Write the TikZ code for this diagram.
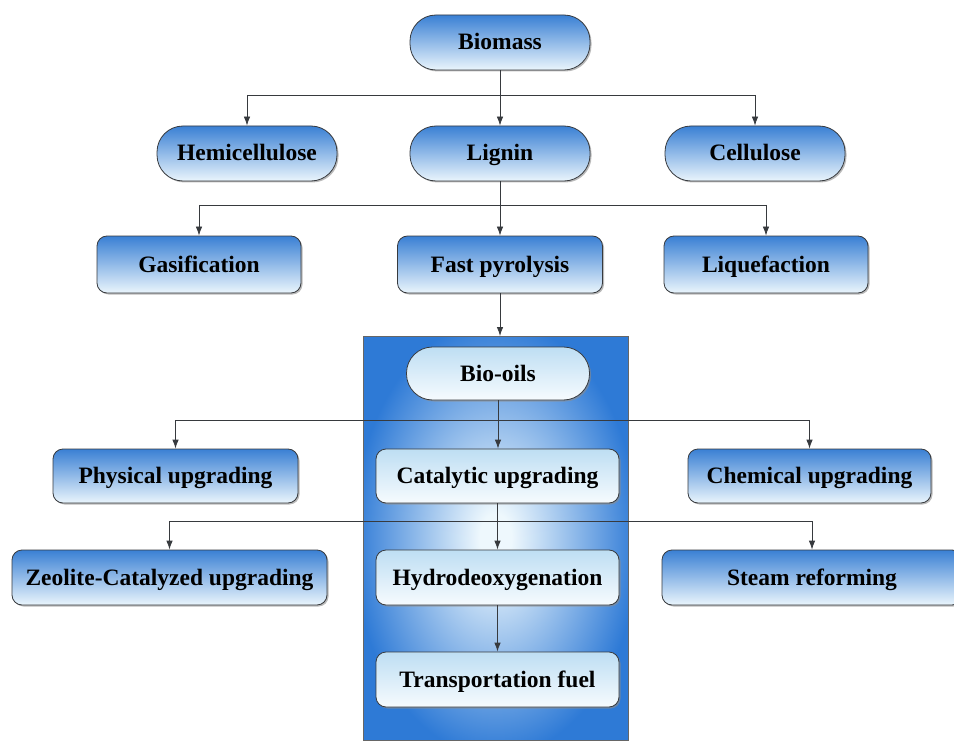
\documentclass[tikz,border=0pt]{standalone}
\usepackage{fontspec}
\setmainfont{Liberation Serif}
\usetikzlibrary{arrows.meta,shadows}
\definecolor{nodeblue}{RGB}{58,128,212}
\definecolor{nodelight}{RGB}{234,245,252}
\definecolor{innertop}{RGB}{190,222,243}
\definecolor{innerbot}{RGB}{246,251,254}
\definecolor{panelblue}{RGB}{46,122,214}
\definecolor{panellight}{RGB}{238,248,253}
\definecolor{linecol}{RGB}{55,58,62}
\pgfdeclareradialshading{panelshade}{\pgfpoint{0bp}{0bp}}{color(0bp)=(panellight); color(3bp)=(panellight); color(27bp)=(panelblue); color(50bp)=(panelblue)}
\tikzset{
  boxbase/.style={draw=linecol, line width=0.8pt, inner sep=0pt,
    font=\bfseries\fontsize{23.5}{26}\selectfont, text=black,
    text height=18pt, text depth=3pt,
    drop shadow={shadow xshift=1.5pt, shadow yshift=-1.5pt, fill=black!45, opacity=0.6}},
  outerfill/.style={top color=nodeblue, bottom color=nodelight},
  innerfill/.style={top color=innertop, bottom color=innerbot},
  stadium/.style={boxbase, rounded corners=26pt},
  rbox/.style={boxbase, rounded corners=10pt},
  ln/.style={draw=linecol, line width=0.8pt},
  arr/.style={ln, -{Latex[length=9pt,width=6.5pt]}},
}
\begin{document}
\begin{tikzpicture}[x=1pt,y=-1pt]
\useasboundingbox (0,0) rectangle (954,741);
% panel
\path[draw=black!60, line width=0.8pt, shading=panelshade] (363,336) rectangle (628,740);
\coordinate (paneltop) at (500,336);
% nodes
\node[stadium, outerfill, minimum width=180pt, minimum height=55pt] (biomass) at (500,42.5) {Biomass};
\node[stadium, outerfill, minimum width=180pt, minimum height=55pt] (hemi) at (247,153.5) {Hemicellulose};
\node[stadium, outerfill, minimum width=180pt, minimum height=55pt] (lignin) at (500,153.5) {Lignin};
\node[stadium, outerfill, minimum width=180pt, minimum height=55pt] (cell) at (755,153.5) {Cellulose};
\node[rbox, outerfill, minimum width=204pt, minimum height=57pt] (gas) at (199,264.5) {Gasification};
\node[rbox, outerfill, minimum width=205pt, minimum height=57pt] (pyro) at (500,264.5) {Fast pyrolysis};
\node[rbox, outerfill, minimum width=204pt, minimum height=57pt] (liq) at (766,264.5) {Liquefaction};
\node[stadium, innerfill, minimum width=183pt, minimum height=53pt] (bio) at (498,373.5) {Bio-oils};
\node[rbox, outerfill, minimum width=245pt, minimum height=54pt] (phys) at (175.5,476) {Physical upgrading};
\node[rbox, innerfill, minimum width=243pt, minimum height=54pt] (cat) at (497.5,476) {Catalytic upgrading};
\node[rbox, outerfill, minimum width=243pt, minimum height=54pt] (chem) at (809.5,476) {Chemical upgrading};
\node[rbox, outerfill, minimum width=315pt, minimum height=55pt] (zeo) at (169.5,577.5) {Zeolite-Catalyzed upgrading};
\node[rbox, innerfill, minimum width=243pt, minimum height=55pt] (hdo) at (497.5,577.5) {Hydrodeoxygenation};
\node[rbox, outerfill, minimum width=300pt, minimum height=55pt] (steam) at (812,577.5) {Steam reforming};
\node[rbox, innerfill, minimum width=243pt, minimum height=55pt] (fuel) at (497.5,679.5) {Transportation fuel};
% connectors level 1
\coordinate (j1) at (500,95);
\draw[arr] (biomass.south) -- (lignin.north);
\draw[ln] (j1 -| hemi) -- (j1 -| cell);
\draw[arr] (j1 -| hemi) -- (hemi.north);
\draw[arr] (j1 -| cell) -- (cell.north);
% level 2
\coordinate (j2) at (500,205);
\draw[arr] (lignin.south) -- (pyro.north);
\draw[ln] (j2 -| gas) -- (j2 -| liq);
\draw[arr] (j2 -| gas) -- (gas.north);
\draw[arr] (j2 -| liq) -- (liq.north);
% to panel
\draw[arr] (pyro.south) -- (paneltop);
% level 3
\coordinate (j3) at (498,420);
\draw[arr] (bio.south) -- (bio.south |- cat.north);
\draw[ln] (j3 -| phys) -- (j3 -| chem);
\draw[arr] (j3 -| phys) -- (phys.north);
\draw[arr] (j3 -| chem) -- (chem.north);
% level 4
\coordinate (j4) at (498,521);
\draw[arr] (cat.south) -- (hdo.north);
\draw[ln] (j4 -| zeo) -- (j4 -| steam);
\draw[arr] (j4 -| zeo) -- (zeo.north);
\draw[arr] (j4 -| steam) -- (steam.north);
% level 5
\draw[arr] (hdo.south) -- (fuel.north);
\end{tikzpicture}
\end{document}
